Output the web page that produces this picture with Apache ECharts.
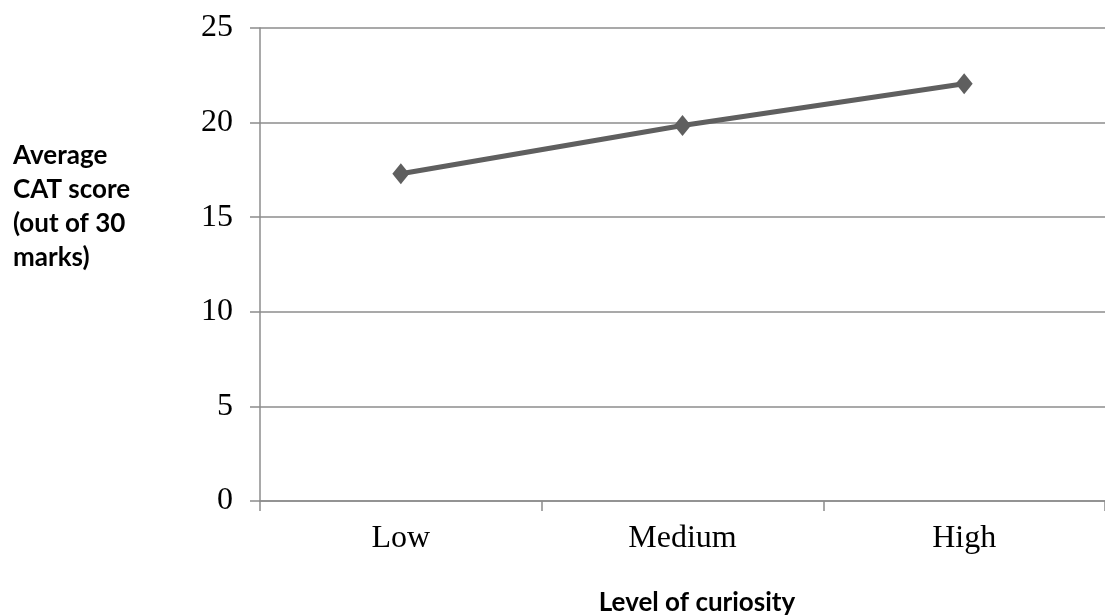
<!DOCTYPE html>
<html><head><meta charset="utf-8">
<script src="https://cdn.jsdelivr.net/npm/echarts@6/dist/echarts.min.js"></script>
<style>html,body{margin:0;padding:0;background:#fff}#c{width:1105px;height:615px}</style>
</head><body><div id="c"></div>
<script>
const categories = ["Low", "Medium", "High"];
const scores = [17.3, 19.85, 22.05];
const yTicks = [0, 5, 10, 15, 20, 25];
const yTitle = "Average\nCAT score\n(out of 30\nmarks)";
const xTitle = "Level of curiosity";

const chart = echarts.init(document.getElementById('c'));
chart.setOption({
  animation: false,
  backgroundColor: '#fff',
  grid: { left: 260, top: 28, width: 853, height: 473, containLabel: false },
  xAxis: {
    type: 'category', data: categories, boundaryGap: true,
    axisLine: { lineStyle: { color: '#8c8c8c', width: 1.5 } },
    axisTick: { show: true, length: 10, lineStyle: { color: '#8c8c8c', width: 1.5 } },
    axisLabel: { fontFamily: 'Liberation Serif', fontSize: 32, color: '#000', margin: 22 }
  },
  yAxis: {
    type: 'value', min: yTicks[0], max: yTicks[yTicks.length - 1], interval: 5,
    axisLine: { show: true, lineStyle: { color: '#8c8c8c', width: 1.5 } },
    axisTick: { show: true, length: 10, lineStyle: { color: '#8c8c8c', width: 1.5 } },
    splitLine: { show: true, lineStyle: { color: '#8c8c8c', width: 1.5 } },
    axisLabel: { fontFamily: 'Liberation Serif', fontSize: 32, color: '#000', margin: 27 }
  },
  graphic: [{
    type: 'text', left: 13, top: 139,
    style: { text: yTitle, fontFamily: 'Lato', fontWeight: 'bold', fontSize: 26, lineHeight: 34, fill: '#000' }
  }, {
    type: 'text', x: 697, y: 603,
    style: { text: xTitle, fontFamily: 'Lato', fontWeight: 'bold', fontSize: 26, fill: '#000', textAlign: 'center', textVerticalAlign: 'middle' }
  }],
  series: [{
    type: 'line', data: scores,
    symbol: 'diamond', symbolSize: [17, 21],
    lineStyle: { color: '#5f5f5f', width: 5 },
    itemStyle: { color: '#5f5f5f' }
  }]
});
</script></body></html>
